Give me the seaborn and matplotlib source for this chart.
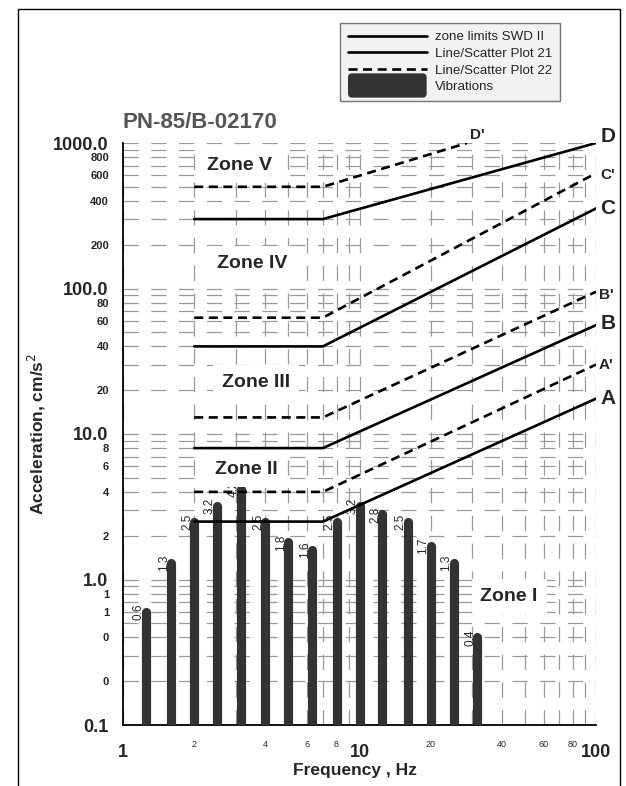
import numpy as np
import pandas as pd
import matplotlib
matplotlib.use("Agg")
import matplotlib.pyplot as plt
import matplotlib.ticker as mticker
from matplotlib.patches import Patch, Rectangle, FancyBboxPatch
from matplotlib.lines import Line2D
from matplotlib.legend_handler import HandlerPatch
import seaborn as sns

# ---------------- data ----------------
limit_freq = [2, 7, 100]
zone_A = [2.5, 2.5, 17.5]
zone_B = [8, 8, 56]
zone_C = [40, 40, 355]
zone_D = [300, 300, 1000]
zone_A2 = [4, 4, 30]
zone_B2 = [13, 13, 95]
zone_C2 = [63, 63, 620]
limit_freq_D2 = [2, 7, 28.5]
zone_D2 = [500, 500, 1000]

vib_freq = [1.25, 1.6, 2, 2.5, 3.15, 4, 5, 6.3, 8, 10, 12.5, 16, 20, 25, 31.5]
vib_acc = [0.6, 1.3, 2.5, 3.2, 4.2, 2.5, 1.8, 1.6, 2.5, 3.2, 2.8, 2.5, 1.7, 1.3, 0.4]

zone_names = ["Zone V", "Zone IV", "Zone III", "Zone II", "Zone I"]
zone_x = [3.12, 3.51, 3.65, 3.31, 42.9]
zone_y = [700, 148, 22.6, 5.7, 0.764]

legend_labels = ["zone limits SWD II", "Line/Scatter Plot 21",
                 "Line/Scatter Plot 22", "Vibrations"]
title_text = "PN-85/B-02170"
x_label = "Frequency , Hz"
y_label = "Acceleration, cm/s$^2$"

# ---------------- style ----------------
sns.set_style("white")
plt.rcParams["font.family"] = ["Liberation Sans", "DejaVu Sans"]
plt.rcParams["lines.scale_dashes"] = False

fig = plt.figure(figsize=(6.26, 7.86), dpi=100)
ax = fig.add_axes([123 / 626, 1 - 725 / 786, 473 / 626, 582 / 786])
ax.set_xscale("log")
ax.set_yscale("log")
ax.set_xlim(1, 100)
ax.set_ylim(0.1, 1000)

# grid
grid_kw = dict(color="#9a9a9a", linewidth=0.9, linestyle=(0, (11, 9)))
ax.grid(True, which="both", axis="both", **grid_kw)
ax.set_axisbelow(True)

# bars (vibrations)
ax.vlines(vib_freq, 0.1, vib_acc, colors="#333333", linewidth=6.6,
          capstyle="round", zorder=3)
for f, v in zip(vib_freq, vib_acc):
    ax.annotate(f"{v:.1f}", (f, v), xytext=(-5.2, 0), textcoords="offset points",
                rotation=90, ha="center", va="center", fontsize=8.5, zorder=4)

# zone limit lines
solid = [zone_A, zone_B, zone_C, zone_D]
dashed = [zone_A2, zone_B2, zone_C2]
for vals in solid:
    sns.lineplot(x=limit_freq, y=vals, ax=ax, color="black", linewidth=1.9,
                 estimator=None, sort=False, legend=False, zorder=5)
for vals in dashed:
    sns.lineplot(x=limit_freq, y=vals, ax=ax, color="black", linewidth=1.9,
                 linestyle=(0, (6.5, 4)), estimator=None, sort=False,
                 legend=False, zorder=5)
sns.lineplot(x=limit_freq_D2, y=zone_D2, ax=ax, color="black", linewidth=1.9,
             linestyle=(0, (6.5, 4)), estimator=None, sort=False,
             legend=False, zorder=5)

# end labels
end_labels = [
    ("D", limit_freq[-1], zone_D[-1], 3, 5, 15),
    ("C", limit_freq[-1], zone_C[-1], 3, 0, 15),
    ("B", limit_freq[-1], zone_B[-1], 3, 1, 15),
    ("A", limit_freq[-1], zone_A[-1], 3, 0, 15),
    ("C'", limit_freq[-1], zone_C2[-1], 3, -1, 11),
    ("B'", limit_freq[-1], zone_B2[-1], 2, -2, 11),
    ("A'", limit_freq[-1], zone_A2[-1], 2, 0, 11),
    ("D'", limit_freq_D2[-1], zone_D2[-1], 2, 6, 11),
]
for txt, x, y, dx, dy, fs in end_labels:
    ax.annotate(txt, (x, y), xytext=(dx, dy), textcoords="offset points",
                ha="left", va="center", fontsize=fs, fontweight="bold",
                annotation_clip=False, zorder=7)

# zone labels
for name, x, y in zip(zone_names, zone_x, zone_y):
    ax.text(x, y, name, fontsize=14, fontweight="bold", ha="center", va="center",
            zorder=6, bbox=dict(boxstyle="square,pad=0.45", facecolor="white",
                                edgecolor="none"))

# axes / ticks
for s in ["top", "right"]:
    ax.spines[s].set_visible(False)
for s in ["left", "bottom"]:
    ax.spines[s].set_color("black")
    ax.spines[s].set_linewidth(1.3)

ax.xaxis.set_major_locator(mticker.FixedLocator([1, 10, 100]))
ax.xaxis.set_minor_locator(mticker.LogLocator(base=10, subs=np.arange(2, 10)))
ax.xaxis.set_major_formatter(mticker.FuncFormatter(lambda v, p: f"{v:.0f}"))
x_minor_lab = [2, 4, 6, 8, 20, 40, 60, 80]


def xminor(v, p):
    for m in x_minor_lab:
        if abs(v - m) / m < 1e-6:
            return f"{v:.0f}"
    return ""


ax.xaxis.set_minor_formatter(mticker.FuncFormatter(xminor))

ax.yaxis.set_major_locator(mticker.FixedLocator([0.1, 1, 10, 100, 1000]))
ax.yaxis.set_minor_locator(mticker.LogLocator(base=10, subs=np.arange(2, 10)))
ax.yaxis.set_major_formatter(mticker.FuncFormatter(lambda v, p: f"{v:.1f}"))


def yminor(v, p):
    mant = v / 10 ** np.floor(np.log10(v) + 1e-9)
    if int(round(mant)) in (2, 4, 6, 8):
        return f"{v:.0f}"
    return ""


ax.yaxis.set_minor_formatter(mticker.FuncFormatter(yminor))

ax.tick_params(axis="x", which="major", direction="out", length=6.5, width=1.2,
               pad=7, labelsize=13, color="black")
ax.tick_params(axis="x", which="minor", direction="out", length=3.8, width=1.0,
               pad=7, labelsize=6.5, color="black")
ax.tick_params(axis="y", which="major", direction="out", length=5.5, width=1.2,
               pad=5, labelsize=13, color="black")
ax.tick_params(axis="y", which="minor", direction="out", length=5.0, width=1.0,
               pad=5, labelsize=8, color="black")
for lab in ax.get_xticklabels(which="major") + ax.get_yticklabels(which="major"):
    lab.set_fontweight("bold")
for lab in ax.get_yticklabels(which="minor"):
    lab.set_fontweight("bold")

ax.set_xlabel(x_label, fontsize=12.5, fontweight="bold")
ax.set_ylabel(y_label, fontsize=12.5, fontweight="bold")
ax.xaxis.set_label_coords(0.49, -0.079)
ax.xaxis.label.set_va("center")
ax.yaxis.set_label_coords(-0.182, 0.5)
ax.yaxis.label.set_va("center")

# title
fig.text(123 / 626, 1 - 123 / 786, title_text, ha="left", va="center",
         fontsize=16, fontweight="bold", color="#555555")


# legend
class BigPatchHandler(HandlerPatch):
    def create_artists(self, legend, orig_handle, xdescent, ydescent, width,
                       height, fontsize, trans):
        extra = 0.8 * height
        p = FancyBboxPatch((-xdescent, -ydescent - extra), width,
                           height + 2 * extra,
                           boxstyle="round,pad=0,rounding_size=3",
                           facecolor=orig_handle.get_facecolor(),
                           edgecolor="none", transform=trans)
        return [p]


handles = [
    Line2D([], [], color="black", linewidth=1.9),
    Line2D([], [], color="black", linewidth=1.9),
    Line2D([], [], color="black", linewidth=1.9, linestyle=(0, (6.5, 4))),
    Patch(facecolor="#333333"),
]
leg = fig.legend(handles, legend_labels, loc="upper left",
                 bbox_to_anchor=(340 / 626, 1 - 23 / 786),
                 bbox_transform=fig.transFigure, fontsize=9.6,
                 handlelength=5.9, handletextpad=0.6, labelspacing=0.32,
                 borderpad=0.6, borderaxespad=0, fancybox=False,
                 frameon=True, handler_map={Patch: BigPatchHandler()})
leg.get_frame().set_facecolor("#efefef")
leg.get_frame().set_edgecolor("#555555")
leg.get_frame().set_linewidth(1.0)

# outer frame
fig.patches.append(Rectangle((18 / 626, -0.02), (620 - 18) / 626, 1.02 - 9 / 786,
                             transform=fig.transFigure, fill=False,
                             edgecolor="black", linewidth=1.0))

fig.savefig("out.png", dpi=100)
